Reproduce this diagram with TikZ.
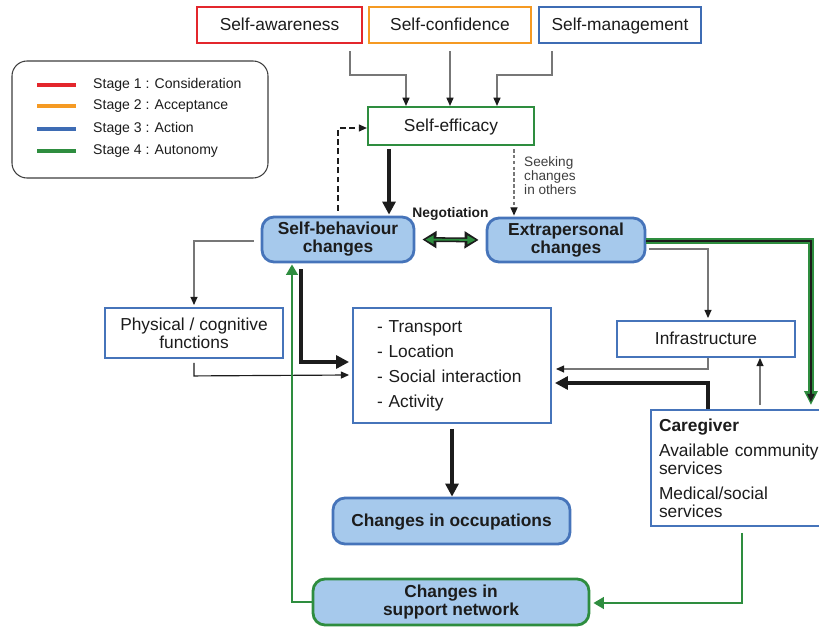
\documentclass[tikz,border=0pt]{standalone}
\usepackage{fontspec}
\setmainfont{Liberation Sans}
\usetikzlibrary{arrows.meta,calc}
\definecolor{stred}{HTML}{E3262C}
\definecolor{storange}{HTML}{F59A23}
\definecolor{stblue}{HTML}{3E6CB4}
\definecolor{stgreen}{HTML}{2E8D3F}
\definecolor{boxblue}{HTML}{4674BA}
\definecolor{fillblue}{HTML}{A6C9EC}
\definecolor{ink}{HTML}{1C1C1C}
\definecolor{linegray}{HTML}{777777}
\newcommand\mainsz{\fontsize{14.8pt}{15.4pt}\selectfont}
\newcommand\listsz{\fontsize{14.8pt}{21.3pt}\selectfont}
\newcommand\legsz{\fontsize{12pt}{14pt}\selectfont}
\newcommand\smallsz{\fontsize{11.6pt}{12pt}\selectfont}

\begin{document}
\begin{tikzpicture}[x=0.03cm, y=-0.03cm,
  every node/.style={text=ink, font=\mainsz},
  sz/.style 2 args={minimum width=#1*0.03cm, minimum height=#2*0.03cm, inner sep=0pt},
  oneline/.style={text height=12pt, text depth=3pt},
  stagebox/.style={draw=#1, line width=1.8pt, fill=white, oneline},
  plainbox/.style={draw=boxblue, line width=1.6pt, fill=white, align=center},
  roundbox/.style={draw=boxblue, fill=fillblue, line width=2.4pt, rounded corners=0.36cm, align=center, font=\mainsz\bfseries},
  grayarrow/.style={draw=linegray, line width=1pt, -{Triangle[length=7pt,width=6pt,color=ink]}},
  blackarrow/.style={draw=ink, line width=1pt, -{Triangle[length=7pt,width=6pt]}},
  heavyarrow/.style={draw=ink, line width=2.6pt, -{Triangle[length=11pt,width=11pt]}},
  greenarrow/.style={draw=stgreen, line width=2pt, -{Triangle[length=9pt,width=10pt]}},
  swatch/.style={line width=2.8pt},
  legtext/.style={anchor=west, inner sep=0pt, font=\legsz},
]
\useasboundingbox (0,0) rectangle (819,627);
\clip (0,0) rectangle (819,627);

% ---- stage boxes ----
\node[stagebox=stred, sz={165}{36}] (aware) at (279.5,25) {Self-awareness};
\node[stagebox=storange, sz={162}{36}] (conf) at (450,25) {Self-confidence};
\node[stagebox=stblue, sz={162}{36}] (mgmt) at (620,25) {Self-management};

% ---- legend ----
\node[draw=ink!85, line width=0.9pt, rounded corners=0.45cm, sz={256}{117}] (legend) at (140,119.5) {};
\draw[swatch, stred] (37,85) -- (76,85);
\draw[swatch, storange] (37,106) -- (76,106);
\draw[swatch, stblue] (37,129) -- (76,129);
\draw[swatch, stgreen] (37,151) -- (76,151);
\node[legtext] (leg1) at (93,85) {Stage 1 : Consideration};
\node[legtext] (leg2) at (93,106) {Stage 2 : Acceptance};
\node[legtext] (leg3) at (93,129) {Stage 3 : Action};
\node[legtext] (leg4) at (93,151) {Stage 4 : Autonomy};

% ---- main boxes ----
\node[stagebox=stgreen, sz={166}{38}] (eff) at (451,126) {Self-efficacy};
\node[roundbox, sz={152}{45}] (sb) at (338,239.5) {Self-behaviour\\changes};
\node[roundbox, sz={158}{44}] (ext) at (566,240) {Extrapersonal\\changes};
\node[plainbox, sz={178}{50}] (phys) at (194,333) {Physical / cognitive\\functions};
\node[plainbox, sz={198}{115}, text width=150*0.03cm, align=left, font=\listsz] (mid) at (452,365.5)
  {- Transport\\- Location\\- Social interaction\\- Activity};
\node[plainbox, sz={178}{36}, oneline] (infra) at (706,339) {Infrastructure};
\node[roundbox, sz={237}{46}, oneline] (occ) at (451.5,521) {Changes in occupations};
\node[roundbox, draw=stgreen, sz={276}{46}] (sup) at (451,602) {Changes in\\support network};
\node[plainbox, sz={180}{116}, text width=164*0.03cm, align=left] (care) at (741,468)
  {\textbf{Caregiver}\\[6pt]Available community\\services\\[6pt]Medical/social\\services};

% ---- labels ----
\node[anchor=west, align=left, font=\smallsz, inner sep=0pt, text=ink!85] (seek) at (524,176) {Seeking\\changes\\in others};
\node[font=\fontsize{11.8pt}{12pt}\selectfont\bfseries, inner sep=0pt] (nego) at ($(sb.east)!0.5!(ext.west)+(0,-26)$) {Negotiation};

% ---- stages feed self-efficacy ----
\draw[grayarrow] ($(aware.south)+(70.5,7)$) -- ++(0,24) -| ($(eff.north)+(-45,0)$);
\draw[grayarrow] ($(conf.south)+(0,7)$) -- (conf.south |- eff.north);
\draw[grayarrow] ($(mgmt.south)+(-68,7)$) -- ++(0,24) -| ($(eff.north)+(46,0)$);

% ---- self-efficacy and self-behaviour ----
\draw[heavyarrow] ($(eff.south)+(-62,3)$) -- ($(sb.north)+(51,-1)$);
\draw[blackarrow, line width=1.2pt, dash pattern=on 5pt off 3pt] ($(sb.north)+(0,-5)$) |- ($(eff.west)+(0,2)$);
\draw[grayarrow, dash pattern=on 3pt off 2pt] ($(eff.south)+(63,3)$) -- ($(ext.north)+(-52,-1)$);

% ---- negotiation (black outline, green core) ----
\draw[line width=4.2pt, draw=ink, {Triangle[length=12pt,width=14pt]}-{Triangle[length=12pt,width=14pt]},
  shorten <=0.21cm, shorten >=0.21cm] (sb.east) -- (ext.west);
\draw[line width=1.6pt, draw=stgreen, {Triangle[length=7pt,width=7pt]}-{Triangle[length=7pt,width=7pt]},
  shorten <=0.3cm, shorten >=0.3cm] (sb.east) -- (ext.west);

% ---- extrapersonal changes to caregiver (green outline, black core) ----
\draw[line width=4.6pt, draw=stgreen, -{Triangle[length=12pt,width=11pt]}] ($(ext.east)+(0,1)$) -| ($(care.north east)+(-21,-4)$);
\draw[line width=2pt, draw=ink, -{Triangle[length=7pt,width=6pt]}, shorten >=0.09cm] ($(ext.east)+(0,1)$) -| ($(care.north east)+(-21,-4)$);

% ---- right-hand side ----
\draw[grayarrow] ($(ext.east)+(3,9)$) -| ($(infra.north)+(2,-2)$);
\draw[grayarrow] ($(infra.south)+(2,0)$) |- ($(mid.east)+(4,3.5)$);
\draw[heavyarrow] ($(care.north)+(-33,0)$) |- ($(mid.east)+(3,17.5)$);
\draw[grayarrow] ($(care.north)+(19,-4)$) -- ($(infra.south)+(54,0)$);

% ---- left-hand side ----
\draw[grayarrow] ($(sb.west)+(-7,1.5)$) -| ($(phys.north)+(0,-2)$);
\draw[blackarrow] ($(phys.south)+(0,4)$) -- ++(0,13) -- ($(mid.west)+(-3,9.5)$);
\draw[heavyarrow] ($(sb.south)+(-37,6)$) |- ($(mid.west)+(-3,-3.5)$);

% ---- outcomes ----
\draw[heavyarrow] ($(mid.south)+(0,5)$) -- (mid.south |- occ.north);
\draw[greenarrow] ($(care.south)+(1,6)$) |- ($(sup.east)+(3,1)$);
\draw[greenarrow] (sup.west) -| ($(sb.south)+(-46,1)$);
\end{tikzpicture}
\end{document}
